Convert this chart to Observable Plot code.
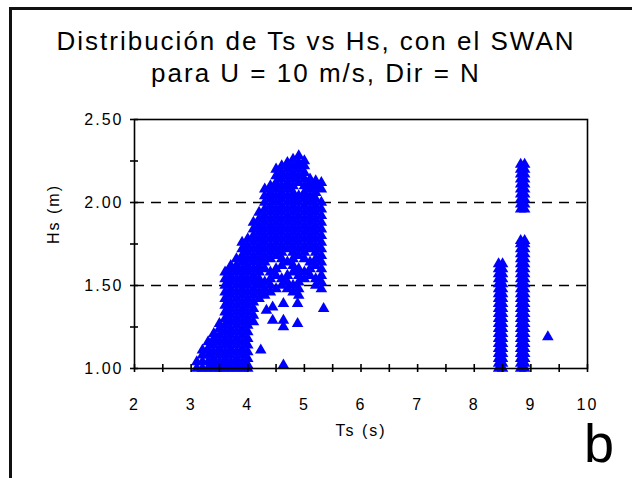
<!DOCTYPE html>
<html>
<head>
<meta charset="utf-8">
<script src="https://cdn.jsdelivr.net/npm/d3@7"></script>
<script src="https://cdn.jsdelivr.net/npm/@observablehq/plot@0.6"></script>
<style>
  html, body { margin: 0; padding: 0; background: #fff; }
  #wrap { position: relative; width: 632px; height: 478px; overflow: hidden; background: #fff; }
  #chart { position: absolute; left: 0; top: 0; }
  #chart svg text { letter-spacing: 2px; }
  .ttl { position: absolute; left: 0; width: 632px; text-align: center; font-family: Arial, "Liberation Sans", sans-serif;
         font-size: 26px; line-height: 26px; letter-spacing: 2px; color: #000; white-space: nowrap; z-index: 2; }
  #panel { position: absolute; left: 584px; top: 416px; font-family: Arial, "Liberation Sans", sans-serif;
           font-size: 54px; line-height: 54px; color: #000; z-index: 2; }
  #border { position: absolute; left: 9px; top: 7px; width: 640px; height: 500px;
            border-top: 3px solid #111; border-left: 3px solid #111; z-index: 3; }
</style>
</head>
<body>
<div id="wrap">
  <div id="border"></div>
  <div class="ttl" id="t1" style="top:28px"></div>
  <div class="ttl" id="t2" style="top:60px"></div>
  <div id="panel"></div>
  <div id="chart"></div>
</div>
<script>
// ---- Text ----
const titleLine1 = "Distribución de Ts vs Hs, con el SWAN";
const titleLine2 = "para U = 10 m/s, Dir = N";
const xLabel = "Ts (s)";
const yLabel = "Hs (m)";
const panelLabel = "b";

// ---- Axes ----
const xTicks = [2, 3, 4, 5, 6, 7, 8, 9, 10];
const xMinorTicks = [2, 2.5, 3, 3.5, 4, 4.5, 5, 5.5, 6, 6.5, 7, 7.5, 8, 8.5, 9, 9.5, 10];
const yTicks = [1.0, 1.5, 2.0, 2.5];
const yMinorTicks = [1.0, 1.25, 1.5, 1.75, 2.0, 2.25, 2.5];
const gridHs = [1.5, 2.0];

// ---- Data: Ts columns and the Hs values read in each column ----
const tsCols = [3.1, 3.2, 3.3, 3.4, 3.5, 3.6, 3.7, 3.8, 3.9, 4.0, 4.1, 4.2, 4.3, 4.4, 4.5, 4.6, 4.7, 4.8, 4.9, 5.0, 5.1, 5.2, 5.3, 8.43, 8.50, 8.82, 8.89];
const hsCols = [
  [1.00, 1.04],
  [1.00, 1.04, 1.08, 1.11],
  [1.00, 1.04, 1.08, 1.12, 1.16],
  [1.00, 1.02, 1.06, 1.10, 1.14, 1.18, 1.21],
  [1.00, 1.04, 1.08, 1.12, 1.16, 1.20, 1.24, 1.27],
  [1.00, 1.02, 1.06, 1.10, 1.14, 1.18, 1.22, 1.26, 1.30, 1.34, 1.38, 1.42, 1.46, 1.50, 1.54, 1.58],
  [1.00, 1.04, 1.08, 1.12, 1.16, 1.20, 1.24, 1.28, 1.32, 1.36, 1.40, 1.44, 1.48, 1.52, 1.56, 1.60, 1.62],
  [1.00, 1.02, 1.06, 1.10, 1.14, 1.18, 1.22, 1.26, 1.30, 1.34, 1.38, 1.42, 1.46, 1.50, 1.54, 1.58, 1.62, 1.66],
  [1.00, 1.04, 1.08, 1.12, 1.16, 1.20, 1.24, 1.28, 1.32, 1.36, 1.40, 1.44, 1.48, 1.52, 1.56, 1.60, 1.64, 1.68, 1.72, 1.76],
  [1.00, 1.02, 1.06, 1.10, 1.14, 1.18, 1.22, 1.26, 1.30, 1.34, 1.38, 1.42, 1.46, 1.50, 1.54, 1.58, 1.62, 1.66, 1.70, 1.74, 1.78],
  [1.28, 1.32, 1.36, 1.40, 1.44, 1.48, 1.52, 1.56, 1.60, 1.64, 1.68, 1.72, 1.76, 1.80, 1.84, 1.88],
  [1.42, 1.46, 1.50, 1.54, 1.58, 1.62, 1.66, 1.70, 1.74, 1.78, 1.82, 1.86, 1.90, 1.94],
  [1.44, 1.48, 1.52, 1.60, 1.64, 1.68, 1.72, 1.76, 1.80, 1.84, 1.88, 1.92, 1.96, 2.00, 2.04, 2.08],
  [1.46, 1.50, 1.54, 1.58, 1.66, 1.70, 1.74, 1.78, 1.82, 1.86, 1.90, 1.94, 1.98, 2.02, 2.06, 2.10],
  [1.48, 1.56, 1.60, 1.68, 1.72, 1.76, 1.80, 1.84, 1.88, 1.92, 1.96, 2.00, 2.04, 2.08, 2.12, 2.16, 2.20],
  [1.50, 1.54, 1.62, 1.66, 1.70, 1.74, 1.78, 1.82, 1.86, 1.90, 1.94, 1.98, 2.02, 2.06, 2.10, 2.14, 2.18, 2.22],
  [1.48, 1.52, 1.56, 1.64, 1.72, 1.76, 1.80, 1.84, 1.88, 1.92, 1.96, 2.00, 2.04, 2.08, 2.12, 2.16, 2.20, 2.24],
  [1.46, 1.50, 1.58, 1.62, 1.66, 1.70, 1.74, 1.78, 1.82, 1.86, 1.90, 1.94, 1.98, 2.02, 2.06, 2.10, 2.14, 2.18, 2.22, 2.26],
  [1.44, 1.48, 1.52, 1.56, 1.60, 1.68, 1.72, 1.76, 1.80, 1.84, 1.88, 1.92, 1.96, 2.00, 2.04, 2.12, 2.16, 2.20, 2.24, 2.28],
  [1.54, 1.58, 1.66, 1.70, 1.74, 1.78, 1.82, 1.86, 1.90, 1.94, 1.98, 2.02, 2.06, 2.10, 2.14, 2.18, 2.22, 2.25],
  [1.56, 1.60, 1.64, 1.72, 1.76, 1.80, 1.84, 1.88, 1.92, 1.96, 2.00, 2.04, 2.08, 2.12, 2.14],
  [1.50, 1.54, 1.62, 1.66, 1.70, 1.74, 1.78, 1.82, 1.86, 1.90, 1.94, 1.98, 2.02, 2.06, 2.10, 2.13],
  [1.48, 1.52, 1.56, 1.60, 1.64, 1.68, 1.72, 1.76, 1.80, 1.84, 1.88, 1.92, 1.96, 2.00, 2.08, 2.12],
  [1.00, 1.03, 1.06, 1.09, 1.12, 1.15, 1.18, 1.21, 1.24, 1.27, 1.30, 1.33, 1.36, 1.39, 1.42, 1.45, 1.48, 1.51, 1.54, 1.57, 1.60, 1.63],
  [1.00, 1.03, 1.06, 1.09, 1.12, 1.15, 1.18, 1.21, 1.24, 1.27, 1.30, 1.33, 1.36, 1.39, 1.42, 1.45, 1.48, 1.51, 1.54, 1.57, 1.60, 1.63],
  [1.00, 1.03, 1.06, 1.09, 1.12, 1.15, 1.18, 1.21, 1.24, 1.27, 1.30, 1.33, 1.36, 1.39, 1.42, 1.45, 1.48, 1.51, 1.54, 1.57, 1.60, 1.63, 1.66, 1.69, 1.72, 1.75, 1.77,
   1.96, 1.99, 2.02, 2.05, 2.08, 2.11, 2.14, 2.17, 2.20, 2.23],
  [1.00, 1.03, 1.06, 1.09, 1.12, 1.15, 1.18, 1.21, 1.24, 1.27, 1.30, 1.33, 1.36, 1.39, 1.42, 1.45, 1.48, 1.51, 1.54, 1.57, 1.60, 1.63, 1.66, 1.69, 1.72, 1.75, 1.77,
   1.96, 1.99, 2.02, 2.05, 2.08, 2.11, 2.14, 2.17, 2.20, 2.23]
];
// isolated points
const tsSingles = [4.23, 4.33, 4.44, 4.44, 4.63, 4.63, 4.63, 4.63, 4.88, 4.88, 5.34, 9.30];
const hsSingles = [1.11, 1.35, 1.29, 1.37, 1.29, 1.25, 1.39, 1.02, 1.27, 1.39, 1.36, 1.19];

const points = tsCols.flatMap((t, i) => hsCols[i].map(h => ({ts: t, hs: h})))
  .concat(tsSingles.map((t, i) => ({ts: t, hs: hsSingles[i]})));

document.getElementById("t1").textContent = titleLine1;
document.getElementById("t2").textContent = titleLine2;
document.getElementById("panel").textContent = panelLabel;

const W = 632, H = 478, mL = 134, mR = 45, mT = 119, mB = 110;
const plotW = W - mL - mR, plotH = H - mT - mB;
const font = "Arial, 'Liberation Sans', sans-serif";

const chart = Plot.plot({
  width: W, height: H,
  marginLeft: mL, marginRight: mR, marginTop: mT, marginBottom: mB,
  x: {domain: [2, 10]},
  y: {domain: [1, 2.5]},
  style: {fontFamily: font, fontSize: "16px", color: "#000", background: "transparent", overflow: "visible"},
  marks: [
    Plot.ruleY(gridHs, {stroke: "#000", strokeWidth: 1.6, strokeDasharray: "10,7"}),
    Plot.dot(points, {x: "ts", y: "hs", symbol: "triangle", r: 4.3, fill: "#0000ff", stroke: "none"}),
    Plot.frame({stroke: "#000", strokeWidth: 1.6}),
    Plot.ruleX(xMinorTicks, {x: d => d, insetTop: plotH - 4, insetBottom: -4, stroke: "#000", strokeWidth: 1.6}),
    Plot.ruleY(yMinorTicks, {y: d => d, insetLeft: -4, insetRight: plotW - 4, stroke: "#000", strokeWidth: 1.6}),
    Plot.axisX({ticks: xTicks, tickSize: 0, tickPadding: 30, label: null, fontSize: 16}),
    Plot.axisY({ticks: yTicks, tickSize: 0, tickPadding: 11, label: null, fontSize: 16, tickFormat: d3.format(".2f")}),
    Plot.text([xLabel], {text: d => d, frameAnchor: "bottom", dy: 67, fontSize: 16}),
    Plot.text([yLabel], {text: d => d, frameAnchor: "left", dx: -81, rotate: -90, fontSize: 16})
  ]
});
document.getElementById("chart").appendChild(chart);
</script>
</body>
</html>
